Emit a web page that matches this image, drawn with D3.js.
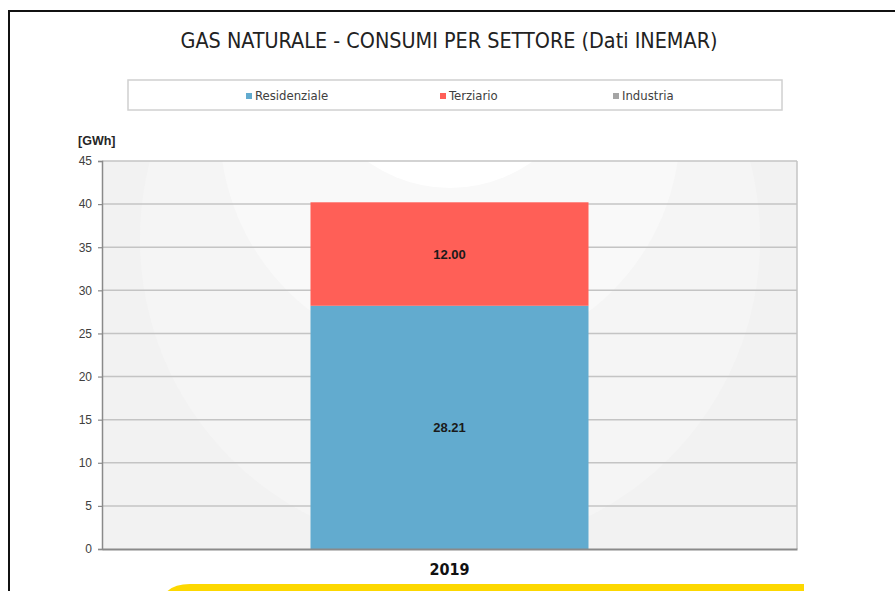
<!DOCTYPE html>
<html>
<head>
<meta charset="utf-8">
<script src="https://cdn.jsdelivr.net/npm/d3@7"></script>
<style>
  body { margin: 0; background: #fff; }
  svg { display: block; }
</style>
</head>
<body>
<div id="chart"></div>
<script>
(function() {
  const W = 895, H = 591;

  // data
  var categories = ['2019'];
  var series = ['Residenziale', 'Terziario', 'Industria'];
  var residenziale = [28.21];
  var terziario = [12.00];
  var industria = [0];
  var colors = ['#62abcf', '#ff5f57', '#a5a5a5'];
  var yTicks = [0, 5, 10, 15, 20, 25, 30, 35, 40, 45];

  var margin = { left: 102, right: 98, top: 161, bottom: 42 };
  var pw = W - margin.left - margin.right
    , ph = H - margin.top - margin.bottom;

  var svg = d3.select('#chart').append('svg')
    .attr('width', W)
    .attr('height', H);

  // outer frame
  svg.append('rect')
    .attr('x', 9).attr('y', 11)
    .attr('width', W + 20).attr('height', H + 20)
    .attr('fill', 'none')
    .attr('stroke', '#111')
    .attr('stroke-width', 2);

  // yellow card peeking at the bottom (rounded left, square right)
  svg.append('path')
    .attr('d', 'M160,612 Q160,584 190,584 L804,584 L804,612 Z')
    .attr('fill', '#fdd800');

  svg.append('text')
    .attr('x', 449).attr('y', 48)
    .attr('text-anchor', 'middle')
    .style('font-family', '"Liberation Sans Narrow", "DejaVu Sans Condensed", sans-serif')
    .style('font-size', '21.4px')
    .attr('fill', '#222')
    .text('GAS NATURALE - CONSUMI PER SETTORE (Dati INEMAR)');

  // legend
  var legend = svg.append('g');
  legend.append('rect')
    .attr('x', 128).attr('y', 80)
    .attr('width', 654).attr('height', 30)
    .attr('fill', '#fff')
    .attr('stroke', '#d0d0d0')
    .attr('stroke-width', 1.5);

  var legendX = [246, 440, 613];
  series.forEach(function(s, i) {
    legend.append('rect')
      .attr('x', legendX[i]).attr('y', 93)
      .attr('width', 6).attr('height', 6)
      .attr('fill', colors[i]);
    legend.append('text')
      .attr('x', legendX[i] + 9).attr('y', 100)
      .style('font-family', '"Liberation Sans Narrow", "DejaVu Sans Condensed", sans-serif')
      .style('font-size', '13px')
      .attr('fill', '#404040')
      .text(s);
  });

  var x = d3.scaleBand()
    .domain(categories)
    .range([0, pw])
    .paddingInner(0.6)
    .paddingOuter(0.3);

  var y = d3.scaleLinear()
    .domain([0, 45])
    .range([ph, 0]);

  var g = svg.append('g')
    .attr('transform', 'translate(' + margin.left + ',' + margin.top + ')');

  // plot area background with soft rings
  var defs = svg.append('defs');
  defs.append('clipPath').attr('id', 'plotClip')
    .append('rect').attr('width', pw).attr('height', ph);

  var bg = g.append('g').attr('clip-path', 'url(#plotClip)');
  bg.append('rect').attr('width', pw).attr('height', ph).attr('fill', '#f2f2f2');
  var cx = pw / 2 + 0.5;
  bg.append('circle').attr('cx', cx).attr('cy', 78).attr('r', 310).attr('fill', '#f5f5f5');
  bg.append('circle').attr('cx', cx).attr('cy', -33).attr('r', 230).attr('fill', '#f9f9f9');
  bg.append('circle').attr('cx', cx).attr('cy', -114).attr('r', 141).attr('fill', '#ffffff');

  // gridlines
  g.append('g')
    .selectAll('line')
    .data(yTicks.filter(function(d) { return d > 0; }))
    .enter().append('line')
    .attr('x1', 0).attr('x2', pw)
    .attr('y1', function(d) { return y(d); })
    .attr('y2', function(d) { return y(d); })
    .attr('stroke', '#c4c4c4')
    .attr('stroke-width', 1.5);

  // right border
  g.append('line')
    .attr('x1', pw).attr('x2', pw)
    .attr('y1', 0).attr('y2', ph)
    .attr('stroke', '#c4c4c4')
    .attr('stroke-width', 1.5);

  // stacked bars
  var rows = categories.map(function(c, i) {
    return { cat: c, Residenziale: residenziale[i], Terziario: terziario[i], Industria: industria[i] };
  });
  var stacked = d3.stack().keys(series)(rows);

  stacked.forEach(function(layer, li) {
    layer.forEach(function(d) {
      if (d[1] - d[0] <= 0) return;
      g.append('rect')
        .attr('x', x(d.data.cat))
        .attr('y', y(d[1]))
        .attr('width', x.bandwidth())
        .attr('height', y(d[0]) - y(d[1]))
        .attr('fill', colors[li]);
      g.append('text')
        .attr('x', x(d.data.cat) + x.bandwidth() / 2)
        .attr('y', (y(d[0]) + y(d[1])) / 2 + 5)
        .attr('text-anchor', 'middle')
        .style('font-family', '"Liberation Sans", Arial, sans-serif')
        .style('font-size', '13px')
        .style('font-weight', 'bold')
        .attr('fill', '#1a1a1a')
        .text(d3.format('.2f')(d[1] - d[0]));
    });
  });

  // y axis
  var yAxis = g.append('g')
    .call(d3.axisLeft(y).tickValues(yTicks).tickSize(4).tickPadding(6));
  yAxis.select('.domain').attr('stroke', '#8a8a8a').attr('stroke-width', 1.5);
  yAxis.selectAll('.tick line').attr('stroke', '#8a8a8a').attr('stroke-width', 1.2);
  yAxis.selectAll('.tick text')
    .style('font-family', '"Liberation Sans", Arial, sans-serif')
    .style('font-size', '12px')
    .attr('fill', '#404040');

  // x axis
  var xAxis = g.append('g')
    .attr('transform', 'translate(0,' + ph + ')')
    .call(d3.axisBottom(x).tickSize(0).tickPadding(15));
  xAxis.select('.domain').attr('stroke', '#8a8a8a').attr('stroke-width', 2);
  xAxis.selectAll('.tick text')
    .style('font-family', '"Liberation Sans Narrow", "DejaVu Sans Condensed", sans-serif')
    .style('font-size', '16px')
    .style('font-weight', 'bold')
    .attr('fill', '#111');

  svg.append('text')
    .attr('x', 78).attr('y', 145)
    .style('font-family', '"Liberation Sans", Arial, sans-serif')
    .style('font-size', '12.5px')
    .style('font-weight', 'bold')
    .attr('fill', '#262626')
    .text('[GWh]');
})();
</script>
</body>
</html>
